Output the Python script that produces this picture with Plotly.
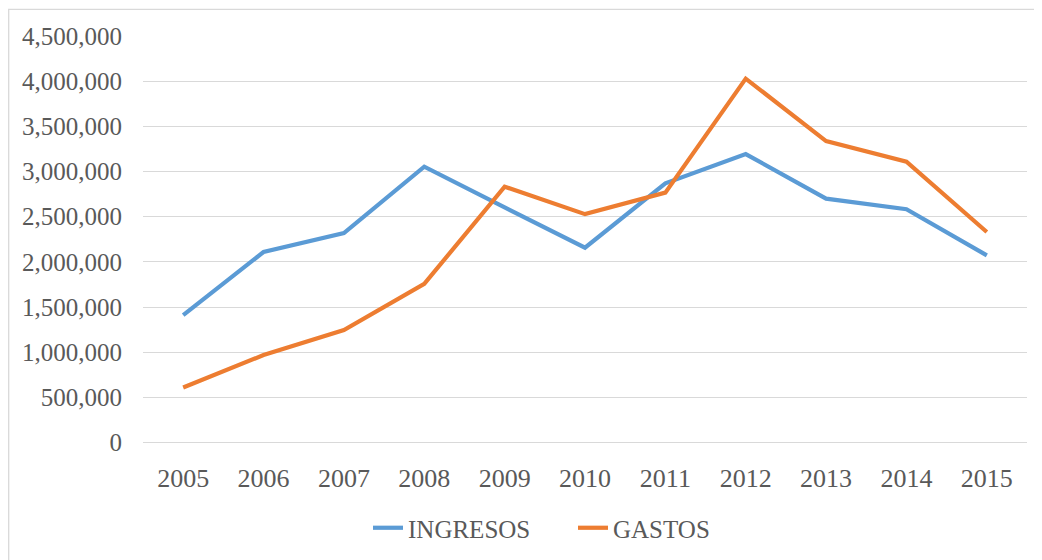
import plotly.graph_objects as go

years = ['2005', '2006', '2007', '2008', '2009', '2010',
         '2011', '2012', '2013', '2014', '2015']
ingresos = [1410000, 2109000, 2318000, 3053000, 2603000, 2156000,
            2870000, 3193000, 2700000, 2583000, 2071000]
gastos = [609000, 968000, 1244000, 1756000, 2832000, 2528000,
          2766000, 4028000, 3337000, 3108000, 2330000]
y_ticks = [0, 500000, 1000000, 1500000, 2000000, 2500000,
           3000000, 3500000, 4000000, 4500000]
y_tick_labels = ['0', '500,000', '1,000,000', '1,500,000', '2,000,000', '2,500,000',
                 '3,000,000', '3,500,000', '4,000,000', '4,500,000']

# page body adds an 8px offset, so work in shifted coordinates
OFF = 8
W, H = 1042, 560
L, T = 143 - OFF, 35.5 - OFF
R = W - (1027 - OFF)
B = H - (445.5 - OFF)
pw, ph = W - L - R, H - T - B

text_col = '#595959'
font_name = 'Liberation Serif'

fig = go.Figure()

fig.add_trace(go.Scatter(x=years, y=ingresos, mode='lines', name='INGRESOS',
                         line=dict(color='#5B9BD5', width=4.2)))
fig.add_trace(go.Scatter(x=years, y=gastos, mode='lines', name='GASTOS',
                         line=dict(color='#ED7D31', width=4.2)))

# light frame round the chart area (only top/left visible in the crop)
fig.add_shape(type='rect', xref='paper', yref='paper',
              x0=(0.7 - L) / pw, x1=(W + 20 - L) / pw,
              y0=-(H + 20 - T - ph) / ph, y1=(T + ph - 0.7) / ph,
              line=dict(color='#D9D9D9', width=1.3), fillcolor='rgba(0,0,0,0)',
              layer='below')

fig.update_xaxes(type='category', range=[-0.5, 10.5], showgrid=False,
                 showline=False, zeroline=False, ticks='',
                 ticklabelstandoff=17,
                 tickfont=dict(family=font_name, size=26, color=text_col))
fig.update_yaxes(range=[0, 4500000], tickvals=y_ticks, ticktext=y_tick_labels,
                 showgrid=True, gridcolor='#D9D9D9', gridwidth=1.3,
                 zeroline=True, zerolinecolor='#D9D9D9', zerolinewidth=1.3,
                 showline=False, ticks='', ticklabelstandoff=20,
                 tickfont=dict(family=font_name, size=25, color=text_col))

legend_cx = 573 - OFF
legend_cy = 528 - OFF

fig.update_layout(width=W, height=H,
                  margin=dict(l=L, r=R, t=T, b=B),
                  paper_bgcolor='white', plot_bgcolor='white',
                  font=dict(family=font_name, color=text_col),
                  showlegend=True,
                  legend=dict(orientation='h', xanchor='center', yanchor='middle',
                              xref='container', yref='container',
                              x=legend_cx / W, y=1 - legend_cy / H,
                              entrywidth=160, entrywidthmode='pixels',
                              font=dict(family=font_name, size=25, color=text_col),
                              bgcolor='rgba(0,0,0,0)'))

fig.write_html("out.html")
